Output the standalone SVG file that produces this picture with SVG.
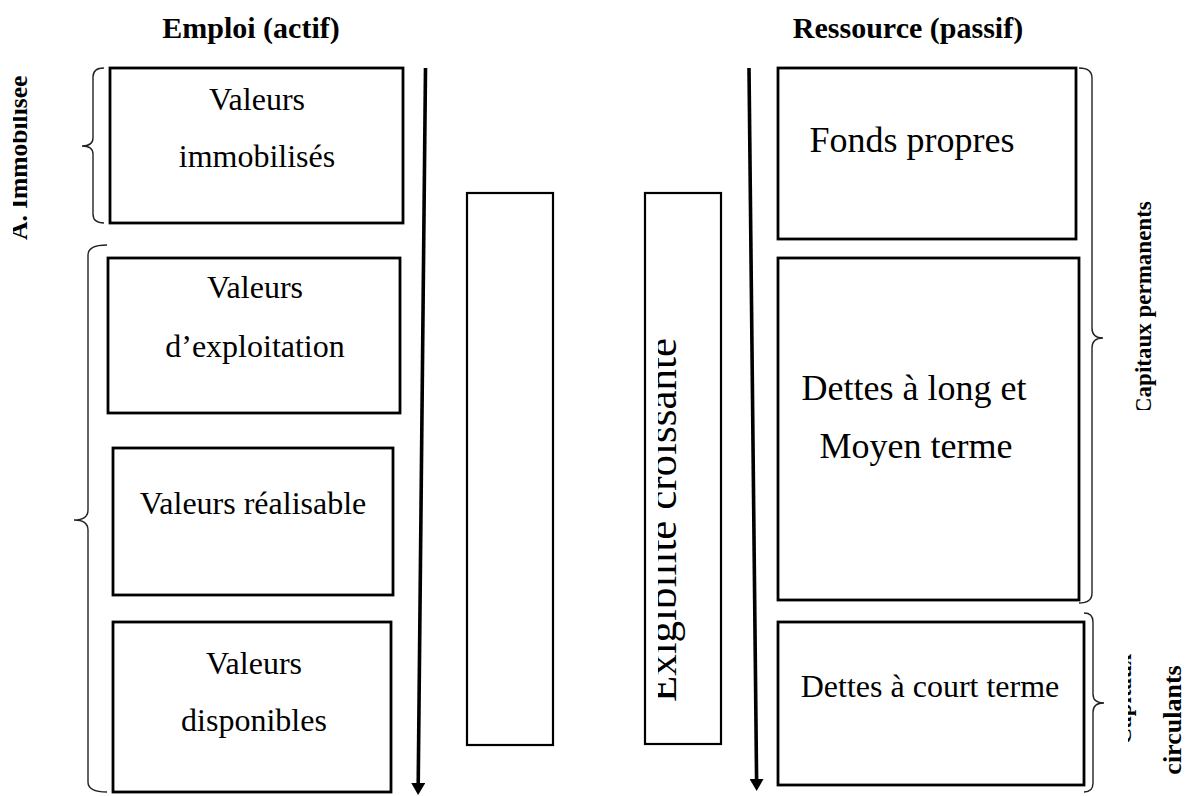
<svg xmlns="http://www.w3.org/2000/svg" width="1186" height="796" viewBox="0 0 1186 796">
  <style>
    .box { fill: #fff; stroke: #000; stroke-width: 2.8; }
    .thin { fill: #fff; stroke: #000; stroke-width: 2.2; }
    .lbl { font-family: "Liberation Serif", "Times New Roman", serif; font-size: 32px; fill: #000; text-anchor: middle; }
    .big { font-size: 36px; }
    .title { font-family: "Liberation Serif", "Times New Roman", serif; font-size: 30px; font-weight: bold; fill: #000; text-anchor: middle; }
    .side { font-family: "Liberation Serif", "Times New Roman", serif; font-size: 23px; font-weight: bold; fill: #000; }
    .brace { fill: none; stroke: #222; stroke-width: 1.4; }
    .arrow { fill: none; stroke: #000; stroke-width: 3.6; }
  </style>
  <defs>
    <marker id="head" viewBox="0 0 12 14" refX="2" refY="7" markerWidth="12" markerHeight="14" markerUnits="userSpaceOnUse" orient="auto">
      <path d="M0,0 L12,7 L0,14 z" fill="#000"/>
    </marker>
    <clipPath id="clipImmo"><rect x="13" y="60" width="40" height="200"/></clipPath>
    <clipPath id="clipExig"><rect x="658" y="195" width="61" height="548"/></clipPath>
    <clipPath id="clipPerm"><rect x="1131" y="60" width="55" height="350"/></clipPath>
    <clipPath id="clipCirc"><rect x="1128" y="620" width="10" height="170"/></clipPath>
  </defs>

  <!-- column headings -->
  <text class="title" x="251" y="38">Emploi (actif)</text>
  <text class="title" x="908" y="38">Ressource (passif)</text>

  <!-- assets side -->
  <g id="valeurs-immobilises">
    <rect class="box" x="110" y="68" width="293" height="155"/>
    <text class="lbl" x="257" y="110">Valeurs</text>
    <text class="lbl" x="257" y="167">immobilisés</text>
  </g>
  <g id="valeurs-exploitation">
    <rect class="box" x="108" y="258" width="292" height="155"/>
    <text class="lbl" x="255" y="298">Valeurs</text>
    <text class="lbl" x="255" y="357">d’exploitation</text>
  </g>
  <g id="valeurs-realisable">
    <rect class="box" x="113" y="448" width="280" height="147"/>
    <text class="lbl" x="253" y="514">Valeurs réalisable</text>
  </g>
  <g id="valeurs-disponibles">
    <rect class="box" x="113" y="622" width="278" height="170"/>
    <text class="lbl" x="254" y="674">Valeurs</text>
    <text class="lbl" x="254" y="731">disponibles</text>
  </g>

  <!-- middle columns -->
  <g id="colonne-vide">
    <rect class="thin" x="467" y="193" width="86" height="552"/>
  </g>
  <g id="exigibilite">
    <rect class="thin" x="645" y="193" width="76" height="551"/>
    <g clip-path="url(#clipExig)">
      <text class="lbl" style="font-size:43px" transform="translate(676,520) rotate(-90)" x="0" y="0">Exigibilité croissante</text>
    </g>
  </g>

  <!-- liabilities side -->
  <g id="fonds-propres">
    <rect class="box" x="778" y="68" width="298" height="171"/>
    <text class="lbl big" x="912" y="152">Fonds propres</text>
  </g>
  <g id="dettes-long-moyen">
    <rect class="box" x="778" y="258" width="301" height="342"/>
    <text class="lbl big" x="914" y="400">Dettes à long et</text>
    <text class="lbl big" x="916" y="458">Moyen terme</text>
  </g>
  <g id="dettes-court">
    <rect class="box" x="778" y="622" width="306" height="163"/>
    <text class="lbl" x="930" y="697">Dettes à court terme</text>
  </g>

  <!-- group labels -->
  <g id="actif-immobilise">
    <g clip-path="url(#clipImmo)">
      <text class="side" transform="translate(27,240) rotate(-90)" style="font-size:25.5px">A. Immobilisée</text>
    </g>
  </g>
  <g id="capitaux-permanents">
    <g clip-path="url(#clipPerm)">
      <text class="side" transform="translate(1151,414) rotate(-90)">Capitaux permanents</text>
    </g>
  </g>
  <g id="capitaux-circulants">
    <g clip-path="url(#clipCirc)">
      <text class="side" text-anchor="middle" transform="translate(1131,699) rotate(-90)">Capitaux</text>
    </g>
    <text class="side" text-anchor="middle" style="font-size:26px" transform="translate(1181,720) rotate(-90)">circulants</text>
  </g>

  <!-- braces -->
  <g id="braces">
    <path class="brace" d="M104,68 Q93,68 93,77 L93,138 Q93,146 82,146 Q93,146 93,154 L93,214 Q93,223 104,223"/>
    <path class="brace" d="M107,245 Q88,245 88,255 L88,510 Q88,520 74,520 Q88,520 88,530 L88,782 Q88,792 107,792"/>
    <path class="brace" d="M1079,68 Q1092,68 1092,78 L1092,328 Q1092,338 1103,338 Q1092,338 1092,348 L1092,593 Q1092,603 1079,603"/>
    <path class="brace" d="M1084,613 Q1093,613 1093,622 L1093,694 Q1093,703 1104,703 Q1093,703 1093,712 L1093,783 Q1093,792 1084,792"/>
  </g>

  <!-- direction arrows -->
  <g id="connectors">
    <line class="arrow" x1="425.5" y1="68" x2="418.2" y2="785" marker-end="url(#head)"/>
    <line class="arrow" x1="749" y1="68" x2="756.6" y2="781" marker-end="url(#head)"/>
  </g>
</svg>
